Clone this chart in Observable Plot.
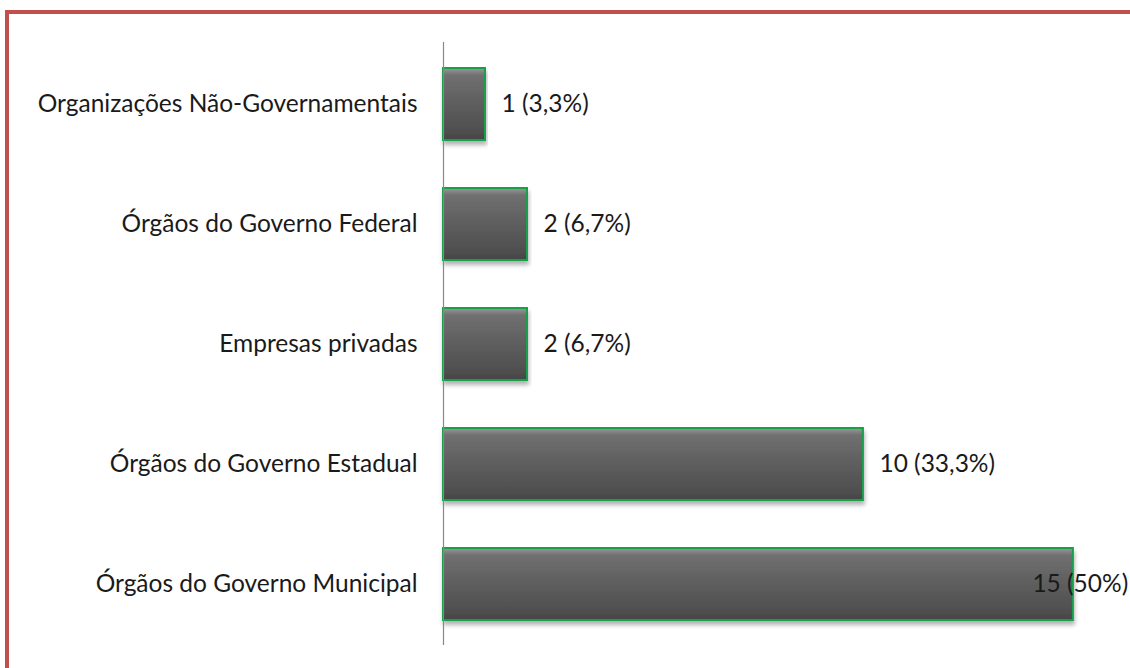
<!DOCTYPE html>
<html>
<head>
<meta charset="utf-8">
<script src="https://cdn.jsdelivr.net/npm/d3@7"></script>
<script src="https://cdn.jsdelivr.net/npm/@observablehq/plot@0.6"></script>
<style>
  html, body { margin: 0; padding: 0; background: #fff; width: 1130px; height: 668px; overflow: hidden; }
  #frame { position: absolute; left: 5px; top: 10px; width: 1200px; height: 700px; border-left: 4px solid #c0504d; border-top: 4px solid #c0504d; }
  #chart { position: absolute; left: 0; top: 0; }
</style>
</head>
<body>
<div id="frame"></div>
<div id="chart"></div>
<script>
const categories = [
  "Organizações Não-Governamentais",
  "Órgãos do Governo Federal",
  "Empresas privadas",
  "Órgãos do Governo Estadual",
  "Órgãos do Governo Municipal"
];
const counts = [1, 2, 2, 10, 15];
const valueLabels = ["1 (3,3%)", "2 (6,7%)", "2 (6,7%)", "10 (33,3%)", "15 (50%)"];

const data = categories.map((c, i) => ({category: c, value: counts[i], label: valueLabels[i]}));
const fontFamily = "Lato, 'Open Sans', sans-serif";
const fs = 24.5;

const plot = Plot.plot({
  width: 1130,
  height: 668,
  marginLeft: 443,
  marginRight: 0,
  marginTop: 42,
  marginBottom: 23,
  style: {background: "transparent", fontFamily, fontSize: fs + "px", color: "#1a1a1a"},
  x: {domain: [0, 16.36], axis: null},
  y: {domain: categories, paddingInner: 0.4, paddingOuter: 0.2, label: null, axis: null},
  marks: [
    Plot.barX(data, {y: "category", x: "value", fill: "url(#barGrad)", stroke: "#17a04a", strokeWidth: 2}),
    Plot.ruleX([0], {stroke: "#888", strokeWidth: 1.2}),
    Plot.text(data.filter(d => d.value < 15), {y: "category", x: "value", text: "label", textAnchor: "start", dx: 16, fill: "#1a1a1a", fontSize: fs}),
    Plot.text(data.filter(d => d.value >= 15), {y: "category", x: "value", text: "label", textAnchor: "start", dx: -41, fill: "#1a1a1a", fontSize: fs}),
    Plot.axisY({tickSize: 0, tickPadding: 26, fontSize: fs, label: null, fill: "#1a1a1a"})
  ]
});

const svg = d3.select(plot);
const defs = svg.insert("defs", ":first-child");
const g = defs.append("linearGradient").attr("id", "barGrad").attr("x1", 0).attr("y1", 0).attr("x2", 0).attr("y2", 1);
g.append("stop").attr("offset", "0%").attr("stop-color", "#9a9a9a");
g.append("stop").attr("offset", "10%").attr("stop-color", "#707070");
g.append("stop").attr("offset", "50%").attr("stop-color", "#5e5e5e");
g.append("stop").attr("offset", "90%").attr("stop-color", "#4e4e4e");
g.append("stop").attr("offset", "100%").attr("stop-color", "#444");
const f = defs.append("filter").attr("id", "shadow").attr("x", "-5%").attr("y", "-10%").attr("width", "110%").attr("height", "140%");
f.append("feDropShadow").attr("dx", 1).attr("dy", 4).attr("stdDeviation", 2).attr("flood-color", "#000").attr("flood-opacity", 0.3);
svg.selectAll("g[aria-label='bar'] rect").attr("filter", "url(#shadow)");

document.getElementById("chart").appendChild(plot);
</script>
</body>
</html>
